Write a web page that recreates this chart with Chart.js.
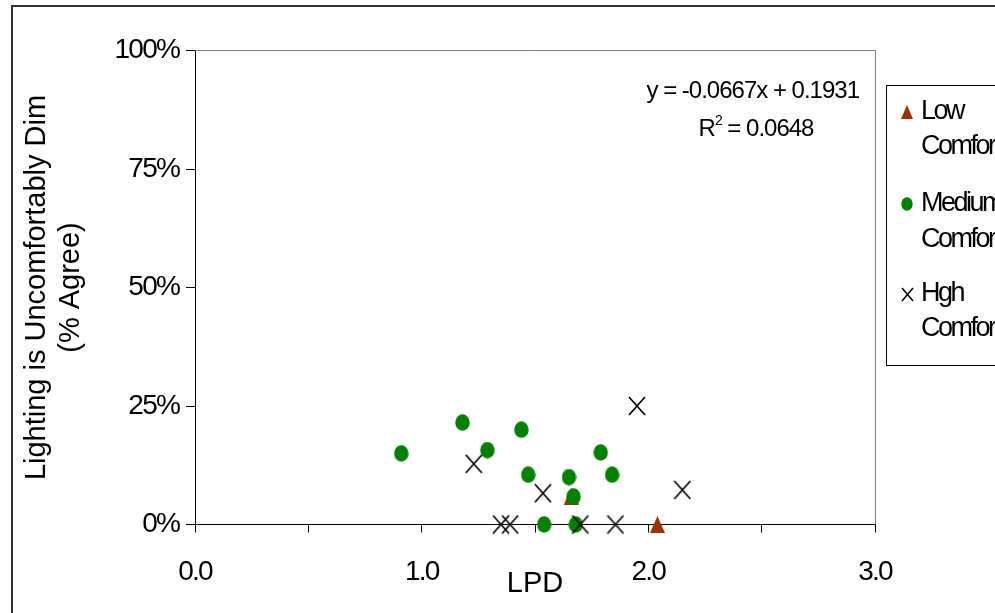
<!DOCTYPE html>
<html><head><meta charset="utf-8">
<script src="https://cdn.jsdelivr.net/npm/chart.js@4.4.1/dist/chart.umd.min.js"></script>
<style>html,body{margin:0;padding:0;background:#fff;overflow:hidden}#wrap{width:995px;height:613px;position:relative}canvas{display:block}</style>
</head><body><div id="wrap"><canvas id="c" width="995" height="613"></canvas></div>
<script>
// ---- data ----
const lowX  = [1.66, 2.04];
const lowY  = [0.06, 0.0];
const medX  = [0.91, 1.18, 1.29, 1.44, 1.47, 1.65, 1.67, 1.79, 1.84, 1.54, 1.68];
const medY  = [0.15, 0.215, 0.157, 0.20, 0.105, 0.10, 0.059, 0.152, 0.105, 0.0, 0.0];
const highX = [1.95, 1.23, 1.535, 2.15, 1.35, 1.39, 1.70, 1.855];
const highY = [0.25, 0.128, 0.066, 0.073, 0.0, 0.0, 0.0, 0.0];
const xTickLabels = ['0.0', '1.0', '2.0', '3.0'];
const yTickLabels = ['0%', '25%', '50%', '75%', '100%'];
const seriesNames = [['Low', 'Comfort'], ['Medium', 'Comfort'], ['Hgh', 'Comfort']];
const xTitle = 'LPD';
const yTitle = ['Lighting is Uncomfortably Dim', '(% Agree)'];
const equationText = 'y = -0.0667x + 0.1931';
const rSquaredText = '0.0648';

const FONT = '"Liberation Sans", Arial, sans-serif';

function mk(w, h, draw) {
  const c = document.createElement('canvas');
  c.width = w; c.height = h;
  draw(c.getContext('2d'), w, h);
  return c;
}
function triangle(w, h) {
  return mk(w, h, (g) => { g.fillStyle = '#993300'; g.beginPath(); g.moveTo(w / 2, 0); g.lineTo(w, h); g.lineTo(0, h); g.closePath(); g.fill(); });
}
function ellipse(w, h) {
  return mk(w, h, (g) => { g.fillStyle = '#008000'; g.beginPath(); g.ellipse(w / 2, h / 2, w / 2 - 0.3, h / 2 - 0.3, 0, 0, 2 * Math.PI); g.fill(); });
}
function cross(w, h, lw) {
  return mk(w, h, (g) => { g.strokeStyle = '#000'; g.lineWidth = lw; g.beginPath(); g.moveTo(1, 1); g.lineTo(w - 1, h - 1); g.moveTo(w - 1, 1); g.lineTo(1, h - 1); g.stroke(); });
}
const triImg = triangle(15, 17);
const circImg = ellipse(15, 17);
const xImg = cross(18, 20, 1.7);
const legendMarks = [triangle(12, 14), ellipse(12, 14), cross(13, 15, 1.5)];

const pts = (xs, ys) => xs.map((x, i) => ({ x: x, y: ys[i] }));

const deco = {
  id: 'deco',
  beforeDraw(chart) {
    const ctx = chart.ctx;
    ctx.letterSpacing = '0px';
    ctx.save();
    ctx.fillStyle = '#fff';
    ctx.fillRect(0, 0, chart.width, chart.height);
    ctx.restore();
  },
  afterDatasetsDraw(chart) {
    chart.ctx.letterSpacing = '-1.8px';
  },
  afterDraw(chart) {
    const ctx = chart.ctx, a = chart.chartArea;
    ctx.save();
    ctx.letterSpacing = '0px';
    // plot area border (top and right)
    ctx.strokeStyle = '#808080';
    ctx.lineWidth = 1;
    ctx.beginPath();
    ctx.moveTo(a.left, Math.floor(a.top) + 0.5);
    ctx.lineTo(Math.floor(a.right) + 0.5, Math.floor(a.top) + 0.5);
    ctx.lineTo(Math.floor(a.right) + 0.5, a.bottom);
    ctx.stroke();
    // outer chart border
    ctx.strokeStyle = '#333';
    ctx.lineWidth = 2;
    ctx.strokeRect(12, 6, 1500, 1500);
    // legend box
    ctx.strokeStyle = '#000';
    ctx.lineWidth = 1;
    ctx.strokeRect(886.5, 85.5, 400, 280);
    const rows = [[112, 147], [204, 240], [294, 329]];
    ctx.fillStyle = '#000';
    ctx.font = '27px ' + FONT;
    ctx.letterSpacing = '-2.5px';
    ctx.textAlign = 'left';
    ctx.textBaseline = 'middle';
    rows.forEach((r, i) => {
      const m = legendMarks[i];
      ctx.drawImage(m, Math.round(907 - m.width / 2), Math.round(r[0] - m.height / 2));
      ctx.fillText(seriesNames[i][0], 921, r[0]);
      ctx.fillText(seriesNames[i][1], 921, r[1]);
    });
    // trendline equation
    ctx.font = '24px ' + FONT;
    ctx.letterSpacing = '-1px';
    ctx.textAlign = 'right';
    ctx.textBaseline = 'alphabetic';
    ctx.fillText(equationText, 859, 98);
    ctx.textAlign = 'left';
    const p1 = 'R', p2 = '2', p3 = ' = ' + rSquaredText;
    ctx.font = '24px ' + FONT;
    const w1 = ctx.measureText(p1).width, w3 = ctx.measureText(p3).width;
    ctx.font = '14px ' + FONT;
    const w2 = ctx.measureText(p2).width;
    let x0 = 756 - (w1 + w2 + w3) / 2;
    ctx.font = '24px ' + FONT;
    ctx.fillText(p1, x0, 136);
    ctx.font = '14px ' + FONT;
    ctx.fillText(p2, x0 + w1, 125);
    ctx.font = '24px ' + FONT;
    ctx.fillText(p3, x0 + w1 + w2, 136);
    ctx.restore();
  }
};

new Chart(document.getElementById('c'), {
  type: 'scatter',
  data: {
    datasets: [
      { label: seriesNames[0].join(' '), data: pts(lowX, lowY), pointStyle: triImg, pointRadius: 7, order: 2, clip: false },
      { label: seriesNames[1].join(' '), data: pts(medX, medY), pointStyle: circImg, pointRadius: 7, order: 1, clip: false },
      { label: seriesNames[2].join(' '), data: pts(highX, highY), pointStyle: xImg, pointRadius: 8, order: 0, clip: false }
    ]
  },
  options: {
    responsive: false,
    animation: false,
    devicePixelRatio: 1,
    layout: { padding: { top: 50.5, right: 120, bottom: 0, left: 0 } },
    plugins: { legend: { display: false }, tooltip: { enabled: false } },
    scales: {
      x: {
        type: 'linear', min: 0, max: 3,
        afterFit: (s) => { s.height = 88.5; },
        border: { display: true, color: '#000', width: 1 },
        grid: { display: true, drawOnChartArea: false, drawTicks: true, tickLength: 8, color: '#000', lineWidth: 1 },
        ticks: {
          stepSize: 0.5, autoSkip: false, maxRotation: 0, minRotation: 0, padding: 23, z: 1,
          color: '#000', font: { family: FONT, size: 28 },
          callback: (v) => Number.isInteger(v) ? xTickLabels[v] : ''
        },
        title: { display: true, text: xTitle, color: '#000', font: { family: FONT, size: 29 }, padding: { top: 0, bottom: 12 } }
      },
      y: {
        type: 'linear', min: 0, max: 1,
        afterFit: (s) => { s.width = 195; },
        border: { display: true, color: '#000', width: 1 },
        grid: { display: true, drawOnChartArea: false, drawTicks: true, tickLength: 9, color: '#000', lineWidth: 1 },
        ticks: {
          stepSize: 0.25, autoSkip: false, padding: 7, z: 1,
          color: '#000', font: { family: FONT, size: 28 },
          callback: (v) => yTickLabels[Math.round(v * 4)]
        },
        title: { display: true, text: yTitle, color: '#000', font: { family: FONT, size: 29, lineHeight: '34px' }, padding: { top: 20, bottom: 0 } }
      }
    }
  },
  plugins: [deco]
});
</script>
</body></html>
